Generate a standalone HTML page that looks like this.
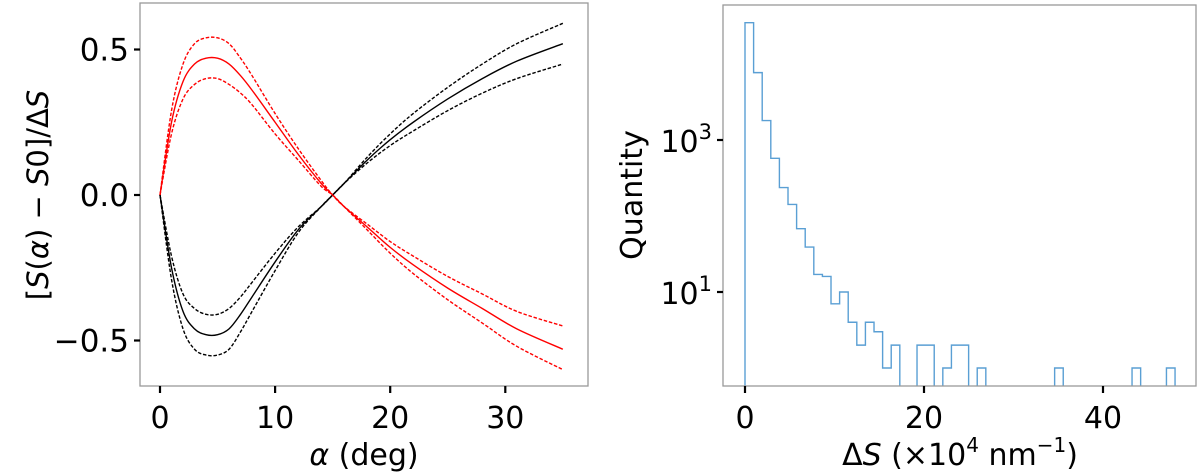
<!DOCTYPE html>
<html><head><meta charset="utf-8"><style>
body{margin:0;background:#fff;width:1200px;height:475px;overflow:hidden}
svg{display:block;font-family:"DejaVu Sans","Liberation Sans",sans-serif}
</style></head><body>
<svg id="fig" width="1200" height="475" viewBox="0 0 1200 475" xmlns="http://www.w3.org/2000/svg">
<g id="left"></g>
<g id="right"></g>
</svg>
<script>
const alphaDeg=[0,1,2,3,4,5,6,7,8,10,12,14,15,16,18,20,22,25,28,31,35];
const redMid=[0,0.25,0.39,0.45,0.47,0.47,0.45,0.41,0.36,0.25,0.14,0.04,0,-0.04,-0.11,-0.18,-0.24,-0.32,-0.39,-0.46,-0.53];
const redUp=[0,0.29,0.45,0.52,0.54,0.54,0.52,0.47,0.41,0.28,0.16,0.05,0,-0.04,-0.10,-0.16,-0.21,-0.28,-0.34,-0.40,-0.45];
const redLow=[0,0.21,0.33,0.38,0.40,0.40,0.38,0.35,0.31,0.21,0.12,0.03,0,-0.04,-0.12,-0.20,-0.27,-0.36,-0.44,-0.52,-0.60];
const blackMid=[0,-0.25,-0.40,-0.46,-0.48,-0.48,-0.46,-0.41,-0.35,-0.23,-0.12,-0.04,0,0.04,0.12,0.19,0.25,0.33,0.40,0.46,0.52];
const blackUp=[0,-0.21,-0.34,-0.39,-0.41,-0.41,-0.39,-0.35,-0.30,-0.20,-0.11,-0.04,0,0.04,0.13,0.21,0.28,0.37,0.45,0.52,0.59];
const blackLow=[0,-0.29,-0.46,-0.53,-0.55,-0.55,-0.53,-0.47,-0.40,-0.26,-0.13,-0.04,0,0.04,0.11,0.17,0.22,0.29,0.35,0.40,0.45];
const leftXTicks=[0,10,20,30];
const leftYTicks=[0.5,0,-0.5];
const leftYTickLabels=["0.5","0.0","\u22120.5"];
const histCounts=[35000,7700,1800,575,237,142,68,39,17,16,7,10,4,2,4,3,1,2,0,0,2,2,0,1,2,2,0,1,0,0,0,0,0,0,0,0,1,0,0,0,0,0,0,0,0,1,0,0,0,1];
const binWidth=0.961;
const rightXTicks=[0,20,40];
const rightYTicks=[3,1];

const NS="http://www.w3.org/2000/svg";
function mk(parent,tag,attrs,text){const e=document.createElementNS(NS,tag);for(const k in attrs)e.setAttribute(k,attrs[k]);if(text!==undefined)e.textContent=text;parent.appendChild(e);return e;}

// LEFT
const L=document.getElementById('left');
const lx=v=>160+v*11.51, ly=v=>195-v*291;
function smoothPath(xs,ys){
  const p=xs.map((x,i)=>[lx(x),ly(ys[i])]);
  let d=`M${p[0][0]},${p[0][1]}`;
  for(let i=0;i<p.length-1;i++){
    const p0=p[Math.max(0,i-1)],p1=p[i],p2=p[i+1],p3=p[Math.min(p.length-1,i+2)];
    const c1=[p1[0]+(p2[0]-p0[0])/6,p1[1]+(p2[1]-p0[1])/6];
    const c2=[p2[0]-(p3[0]-p1[0])/6,p2[1]-(p3[1]-p1[1])/6];
    d+=` C${c1[0]},${c1[1]} ${c2[0]},${c2[1]} ${p2[0]},${p2[1]}`;
  }
  return d;
}
const series=[[redUp,'red',true,'red-upper-dashed'],[redLow,'red',true,'red-lower-dashed'],[blackUp,'black',true,'black-upper-dashed'],[blackLow,'black',true,'black-lower-dashed'],[blackMid,'black',false,'black-solid-line'],[redMid,'red',false,'red-solid-line']];
series.forEach(s=>{
  const e=mk(L,'path',{d:smoothPath(alphaDeg,s[0]),fill:'none',stroke:s[1],'stroke-width':1.4});
  if(s[2])e.setAttribute('stroke-dasharray','3.5,1.8');
  
  
});
const lf=mk(L,'rect',{x:140,y:3,width:448,height:383,fill:'none',stroke:'#999','stroke-width':1.3});

leftXTicks.forEach(t=>{
  mk(L,'line',{x1:lx(t),x2:lx(t),y1:386,y2:393,stroke:'#000','stroke-width':2.2});
  const e=mk(L,'text',{x:lx(t),y:428,'font-size':30,'text-anchor':'middle'},String(t));
  
});
leftYTicks.forEach((t,i)=>{
  mk(L,'line',{x1:134,x2:140,y1:ly(t),y2:ly(t),stroke:'#000','stroke-width':2.2});
  const e=mk(L,'text',{x:129,y:ly(t)+11,'font-size':31,'text-anchor':'end'},leftYTickLabels[i]);
  
});
const lxl=mk(L,'text',{x:364,y:465,'font-size':30,'text-anchor':'middle'});
lxl.innerHTML='<tspan font-style="italic">α</tspan> (deg)';

const lyl=mk(L,'text',{x:0,y:0,'font-size':29,'text-anchor':'middle',transform:'translate(48,195) rotate(-90)'});
lyl.innerHTML='[<tspan font-style="italic">S</tspan>(<tspan font-style="italic">α</tspan>) − <tspan font-style="italic">S</tspan>0]/Δ<tspan font-style="italic">S</tspan>';


// RIGHT
const R=document.getElementById('right');
const rx=v=>745+v*8.95;
const yBottom=386;
const ry=c=>c>0?368-Math.log10(c)*76:yBottom+2;
let d='';
histCounts.forEach((c,i)=>{
  const x0=rx(i*binWidth),x1=rx((i+1)*binWidth),y=ry(c);
  d+=(i===0?`M${x0},${yBottom+2} L${x0},${y}`:` L${x0},${y}`)+` L${x1},${y}`;
});
d+=` L${rx(histCounts.length*binWidth)},${yBottom+2}`;
const clip=mk(R,'clipPath',{id:'rclip'});mk(clip,'rect',{x:723,y:5,width:473,height:381});
const hp=mk(R,'path',{d:d,fill:'none',stroke:'#5a9fd4','stroke-width':1.4,'clip-path':'url(#rclip)'});

const rf=mk(R,'rect',{x:723,y:5,width:473,height:381,fill:'none',stroke:'#999','stroke-width':1.3});

rightXTicks.forEach(t=>{
  mk(R,'line',{x1:rx(t),x2:rx(t),y1:386,y2:393,stroke:'#000','stroke-width':2.2});
  const e=mk(R,'text',{x:rx(t),y:428,'font-size':30,'text-anchor':'middle'},String(t));
  
});
rightYTicks.forEach(t=>{
  const y=368-t*76;
  mk(R,'line',{x1:717,x2:723,y1:y,y2:y,stroke:'#000','stroke-width':2.2});
  const e=mk(R,'text',{x:712,y:y+12,'font-size':30,'text-anchor':'end'});
  e.innerHTML='10<tspan font-size="21" dy="-13">'+t+'</tspan>';
  
});
const rxl=mk(R,'text',{x:960,y:465,'font-size':30,'text-anchor':'middle'});
rxl.innerHTML='Δ<tspan font-style="italic">S</tspan> (×10<tspan font-size="20" dy="-13">4</tspan><tspan dy="13"> nm</tspan><tspan font-size="20" dy="-13">−1</tspan><tspan dy="13">)</tspan>';

const ryl=mk(R,'text',{x:0,y:0,'font-size':30,'text-anchor':'middle',transform:'translate(642,195) rotate(-90)'},'Quantity');

</script>
</body></html>
